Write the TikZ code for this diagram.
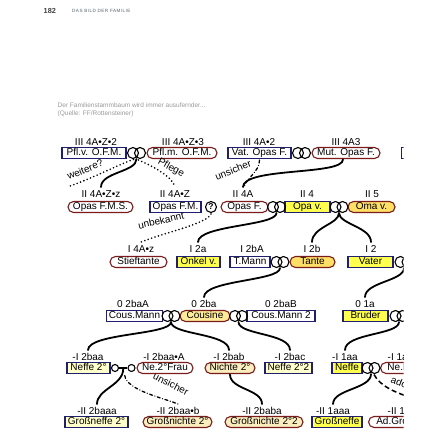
\documentclass[tikz,border=0pt]{standalone}
\usepackage{fontspec}
\setmainfont{Liberation Sans}
\usetikzlibrary{calc}
\definecolor{navy}{HTML}{1F1F6E}
\definecolor{dred}{HTML}{7A1C1C}
\definecolor{yelM}{HTML}{FFFF4D}
\definecolor{yelF}{HTML}{FFE066}
\definecolor{paleM}{HTML}{FFFFCC}
\definecolor{paleF}{HTML}{FAEDBE}
\definecolor{cousF}{HTML}{FFEC99}
\definecolor{capgray}{HTML}{9A9A9A}
\definecolor{hdgray}{HTML}{55646A}
\newcommand{\fsz}[1]{\fontsize{#1}{#1}\selectfont}
\begin{document}
\begin{tikzpicture}[x=1pt,y=-1pt,
  every node/.style={font=\fsz{10}},
  lab/.style={inner sep=0.5pt, text height=7.2pt, text depth=0.3pt},
  per/.style={line width=1.1pt, minimum height=11pt, inner xsep=2pt, inner ysep=0pt,
              text height=7.4pt, text depth=2pt, fill=white, text=black},
  mbox/.style={per, draw=navy, rectangle},
  fbox/.style={per, draw=dred, rectangle, rounded corners=5.5pt},
  conn/.style={line width=1.8pt, line cap=round},
  dots/.style={line width=1.8pt, line cap=round, dash pattern=on 0pt off 3.6pt},
  dashdot/.style={line width=1.3pt, line cap=round, dash pattern=on 3pt off 2.5pt on 0.1pt off 2.5pt},
  dashedl/.style={line width=1.5pt, dash pattern=on 5pt off 3pt},
  note/.style={inner sep=0pt},
  rings/.pic={\draw[line width=1.1pt] (-3.5,0) circle[radius=5.5pt] (3.5,0) circle[radius=5.5pt];}
]
\useasboundingbox (0,0) rectangle (435,435);
\fill[white] (0,0) rectangle (435,435);

% header and caption
\node[anchor=west, font=\fsz{7.3}\bfseries, text=black!75, inner sep=0pt] (pg) at (43.5,11) {182};
\node[anchor=west, font=\fsz{4.6}\addfontfeature{LetterSpace=10}, text=hdgray, inner sep=0pt] (hd) at (72,10.5) {DAS BILD DER FAMILIE};
\node[anchor=west, font=\fsz{6.5}, text=capgray, inner sep=0pt] (cap1) at (57.5,105) {Der Familienstammbaum wird immer ausufernder...};
\node[anchor=west, font=\fsz{6.5}, text=capgray, inner sep=0pt] (cap2) at (57.5,114) {(Quelle: FF/Rottensteiner)};

\begin{scope}
\clip (0,120) rectangle (403.5,435);

% ---------- row III ----------
\node[mbox, minimum width=64] (pflv) at (94,153) {Pfl.v. O.F.M.};
\node[lab] (lpflv) at (96,142) {III 4A•Z•2};
\node[fbox, minimum width=70] (pflm) at (182,153) {Pfl.m. O.F.M.};
\node[lab] (lpflm) at (183,142) {III 4A•Z•3};
\node[mbox, minimum width=63] (vat) at (259.5,153) {Vat. Opas F.};
\node[lab] (lvat) at (259,142) {III 4A•2};
\node[fbox, minimum width=68] (mut) at (346,153) {Mut. Opas F.};
\node[lab] (lmut) at (346,142) {III 4A3};
\node[mbox, minimum width=50, anchor=west] (iiix) at (400.5,153) {};
\coordinate (rpfl) at (136.5,153);
\coordinate (ropf) at (301.5,153);
\pic at (rpfl) {rings};
\pic at (ropf) {rings};

% ---------- row II ----------
\node[fbox, minimum width=65] (opasfms) at (100.5,207) {Opas F.M.S.};
\node[lab] (lopasfms) at (101,194) {II 4A•Z•z};
\node[mbox, minimum width=51] (opasfm) at (175.5,207) {Opas F.M.};
\node[lab] (lopasfm) at (175,194) {II 4A•Z};
\node[circle, draw, line width=1.1pt, inner sep=0pt, minimum size=11pt, font=\fsz{8.5}\bfseries] (q) at (211,207) {?};
\node[fbox, minimum width=47] (opasf) at (244.5,207) {Opas F.};
\node[lab] (lopasf) at (243,194) {II 4A};
\node[mbox, minimum width=45, fill=yelM] (opav) at (307.5,207) {Opa v.};
\node[lab] (lopav) at (307,194) {II 4};
\node[fbox, minimum width=47, fill=yelF] (omav) at (371.5,207) {Oma v.};
\node[lab] (lomav) at (372,194) {II 5};
\coordinate (ropa1) at (276.5,207);
\coordinate (ropa2) at (339,207);
\pic at (ropa1) {rings};
\pic at (ropa2) {rings};

% ---------- row I ----------
\node[fbox, minimum width=57] (stief) at (138.5,262) {Stieftante};
\node[lab] (lstief) at (141,249) {I 4A•z};
\node[mbox, minimum width=43, fill=yelM] (onkel) at (198.5,262) {Onkel v.};
\node[lab] (lonkel) at (198,249) {I 2a};
\node[mbox, minimum width=40] (tmann) at (250,262) {T.Mann};
\node[lab] (ltmann) at (252,249) {I 2bA};
\node[fbox, minimum width=45, fill=yelF] (tante) at (312.5,262) {Tante};
\node[lab] (ltante) at (312,249) {I 2b};
\node[mbox, minimum width=45, fill=yelM] (vater) at (370.5,262) {Vater};
\node[lab] (lvater) at (371,249) {I 2};
\coordinate (rt) at (280,262);
\coordinate (rv) at (404,262);
\pic at (rt) {rings};
\pic at (rv) {rings};

% ---------- row 0 ----------
\node[mbox, minimum width=55] (cousmann) at (134.5,316) {Cous.Mann};
\node[lab] (lcousmann) at (133,304) {0 2baA};
\node[fbox, minimum width=50, fill=cousF] (cousine) at (205,316) {Cousine};
\node[lab] (lcousine) at (204,304) {0 2ba};
\node[mbox, minimum width=68] (cousmann2) at (281,316) {Cous.Mann 2};
\node[lab] (lcousmann2) at (281,304) {0 2baB};
\node[mbox, minimum width=45, fill=yelM] (bruder) at (365.5,316) {Bruder};
\node[lab] (lbruder) at (365,304) {0 1a};
\coordinate (rc1) at (171,316);
\coordinate (rc2) at (238.5,316);
\coordinate (rb) at (399,316);
\pic at (rc1) {rings};
\pic at (rc2) {rings};
\pic at (rb) {rings};

% ---------- row -I ----------
\node[mbox, minimum width=43, fill=paleM] (neffe2) at (88.5,368) {Neffe 2°};
\node[lab] (lneffe2) at (88,357) {-I 2baa};
\node[fbox, minimum width=56] (ne2frau) at (165,368) {Ne.2°Frau};
\node[lab] (lne2frau) at (164,357) {-I 2baa•A};
\node[fbox, minimum width=50, fill=paleF] (nichte2) at (230,368) {Nichte 2°};
\node[lab] (lnichte2) at (229,357) {-I 2bab};
\node[mbox, minimum width=47, fill=paleM] (neffe22) at (288.5,368) {Neffe 2°2};
\node[lab] (lneffe22) at (290,357) {-I 2bac};
\node[mbox, minimum width=30, fill=yelM] (neffe) at (347,368) {Neffe};
\node[lab] (lneffe) at (345,357) {-I 1aa};
\node[fbox, minimum width=50, anchor=west] (nefrau) at (380,368) {Ne.Frau};
\node[lab, anchor=west] (lnefrau) at (387,357) {-I 1aa•A};
\node[circle, draw, line width=1.1pt, minimum size=7pt, inner sep=0pt, fill=white] (sa) at (115,368) {};
\node[circle, draw, line width=1.1pt, minimum size=7pt, inner sep=0pt, fill=white] (sb) at (131.5,368) {};
\draw[line width=1.1pt] (sa) -- (sb);
\coordinate (smid) at (123.25,368.5);
\coordinate (rn) at (371,368);
\pic at (rn) {rings};

% ---------- row -II ----------
\node[mbox, minimum width=63, fill=paleM] (gneffe2) at (96.5,422) {Großneffe 2°};
\node[lab] (lgneffe2) at (97,411) {-II 2baaa};
\node[fbox, minimum width=69, fill=paleF] (gnichte2) at (177.5,422) {Großnichte 2°};
\node[lab] (lgnichte2) at (178,411) {-II 2baa•b};
\node[fbox, minimum width=78, fill=paleF] (gnichte22) at (264,422) {Großnichte 2°2};
\node[lab] (lgnichte22) at (262,411) {-II 2baba};
\node[mbox, minimum width=50, fill=yelM] (gneffe) at (337,422) {Großneffe};
\node[lab] (lgneffe) at (333,411) {-II 1aaa};
\node[fbox, minimum width=80, anchor=west] (adg) at (368,422) {Ad.Großnichte};
\node[lab, anchor=west] (ladg) at (387,411) {-II 1aab};

% ---------- connectors ----------
% row III -> II
\draw[conn] ($(rpfl)+(0,6)$) .. controls +(0,13) and +(0,-15) .. ($(lopasfms.north)+(0,-2.5)$);
\coordinate (wend) at (67,187);
\draw[dots] ($(rpfl)+(-3,6.5)$) .. controls +(-15,5) and +(22,-7) .. (wend);
\node[note, rotate=22] (tweitere) at (85,169.5) {weitere?};
\draw[dots] ($(rpfl)+(2,7)$) .. controls +(14,6) and +(-2,-10) .. ($(lopasfm.north)+(0,-2.5)$);
\node[note, rotate=-28] (tpflege) at (171,168) {Pflege};
\draw[conn] ($(mut.south)+(-3,0.5)$) .. controls +(0,16) and +(0,-20) .. ($(lopasf.north)+(0,-2.5)$);
\draw[dashdot] ($(vat.south)+(0,1)$) .. controls +(0,12) and +(2,-9) .. ($(lopasf.north)+(1,-2.5)$);
\node[note, rotate=22] (tunsicher1) at (233,170) {unsicher};

% row II -> I
\draw[conn] ($(ropa1)+(0,6)$) .. controls +(0,13) and +(0,-17) .. ($(lonkel.north)+(0,-2.5)$);
\draw[conn] ($(ropa2)+(0,6)$) .. controls +(0,11) and +(0,-15) .. ($(ltante.north)+(0,-2.5)$);
\draw[conn] ($(ropa2)+(0,6)$) .. controls +(0,11) and +(0,-15) .. ($(lvater.north)+(0,-2.5)$);
\draw[dots] ($(q.south)+(0,1)$) .. controls +(-5,10) and +(25,-10) .. ($(lstief.north)+(0,-2.5)$);
\node[note, rotate=13] (tunbekannt) at (161,220.5) {unbekannt};

% row I -> 0
\draw[conn] ($(rt)+(0,6)$) .. controls +(0,13) and +(0,-17) .. ($(lcousine.north)+(0,-2.5)$);
\draw[conn] ($(rv)+(0,6)$) .. controls +(0,13) and +(0,-15) .. ($(lbruder.north)+(0,-2.5)$);

% row 0 -> -I
\draw[conn] ($(rc1)+(0,6)$) .. controls +(0,13) and +(0,-17) .. ($(lneffe2.north)+(0,-2.5)$);
\draw[conn] ($(rc1)+(0,6)$) .. controls +(0,13) and +(0,-17) .. ($(lnichte2.north)+(0,-2.5)$);
\draw[conn] ($(rc2)+(0,6)$) .. controls +(0,13) and +(0,-17) .. ($(lneffe22.north)+(0,-2.5)$);
\draw[conn] ($(rb)+(0,6)$) .. controls +(0,13) and +(0,-17) .. ($(lneffe.north)+(0,-2.5)$);

% row -I -> -II
\draw[conn] (smid) .. controls +(0,17) and +(0,-15) .. ($(lgneffe2.north)+(0,-2.5)$);
\draw[dashdot] ($(smid)+(1.5,7)$) .. controls +(2,15) and +(-14,-6) .. ($(lgnichte2.north)+(0,-2.5)$);
\node[note, rotate=-26] (tunsicher2) at (171,384) {unsicher};
\draw[conn] ($(nichte2.south)+(0,0.5)$) .. controls +(0,15) and +(0,-15) .. ($(lgnichte22.north)+(0,-2.5)$);
\draw[conn] ($(rn)+(0,6)$) .. controls +(0,15) and +(0,-15) .. ($(lgneffe.north)+(0,-2.5)$);
\coordinate (adend) at (412,398);
\draw[dashedl] ($(rn)+(3,6.5)$) .. controls +(6,12) and +(-15,-5) .. (adend);
\node[note, rotate=-22, anchor=west] (tad) at (391,380) {adoptiert};
\end{scope}
\end{tikzpicture}
\end{document}
